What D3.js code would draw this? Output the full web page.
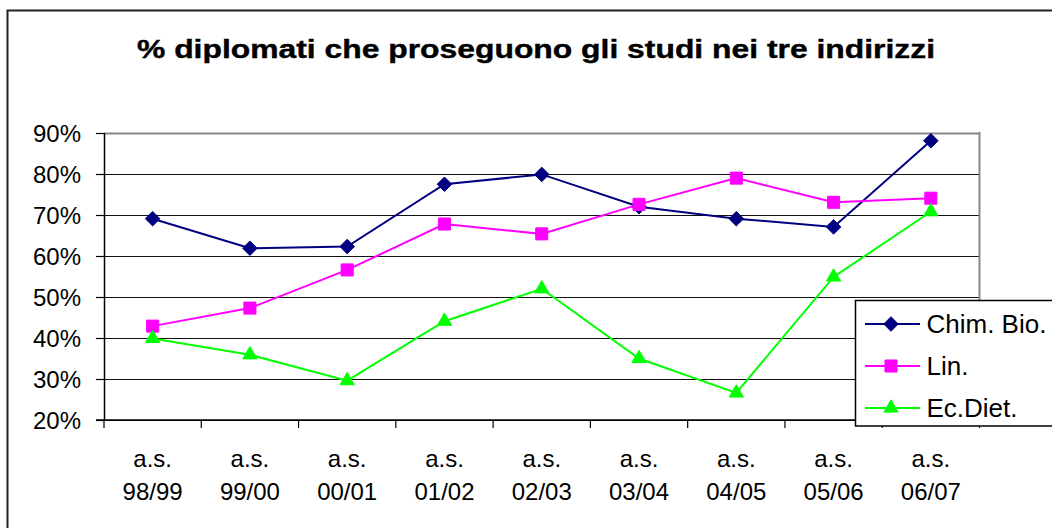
<!DOCTYPE html>
<html>
<head>
<meta charset="utf-8">
<script src="https://cdn.jsdelivr.net/npm/d3@7/dist/d3.min.js"></script>
<style>
  html, body { margin: 0; padding: 0; background: #fff; }
  svg { display: block; font-family: "Liberation Sans", Arial, sans-serif; }
</style>
</head>
<body>
<svg id="chart" width="1052" height="528"></svg>
<script>
// School years and share of graduates continuing their studies, per track (%)
const categories = ["a.s. 98/99", "a.s. 99/00", "a.s. 00/01", "a.s. 01/02", "a.s. 02/03",
                    "a.s. 03/04", "a.s. 04/05", "a.s. 05/06", "a.s. 06/07"];
const chimBio = [69.1, 61.9, 62.3, 77.5, 79.9, 72.0, 69.1, 67.1, 88.1];
const lin     = [42.9, 47.3, 56.6, 67.8, 65.4, 72.6, 79.0, 73.1, 74.1];
const ecDiet  = [39.9, 35.9, 29.6, 44.1, 52.0, 35.0, 26.6, 54.9, 70.8];
const yTicks  = [20, 30, 40, 50, 60, 70, 80, 90];
const title   = "% diplomati che proseguono gli studi nei tre indirizzi";

const seriesList = [
  { name: "Chim. Bio.", values: chimBio, color: "#000080", symbol: d3.symbolDiamond2, size: 135 },
  { name: "Lin.",       values: lin,     color: "#FF00FF", symbol: d3.symbolSquare2,  size: 185 },
  { name: "Ec.Diet.",   values: ecDiet,  color: "#00FF00", symbol: d3.symbolTriangle2, size: 145 }
];

const svg = d3.select("#chart");

// chart frame
svg.append("rect")
  .attr("x", 7.5).attr("y", 10.5).attr("width", 1200).attr("height", 700)
  .attr("fill", "#fff").attr("stroke", "#222").attr("stroke-width", 2);

// title
svg.append("text")
  .attr("x", 536).attr("y", 58)
  .attr("text-anchor", "middle")
  .attr("font-weight", "bold").attr("font-size", 25)
  .attr("stroke", "#000").attr("stroke-width", 0.4)
  .attr("textLength", 798).attr("lengthAdjust", "spacingAndGlyphs")
  .text(title);

const plotL = 104, plotR = 979.5, plotT = 133, plotB = 420;

const x = d3.scaleBand().domain(categories).range([plotL, plotR]).padding(0);
const y = d3.scaleLinear().domain([20, 90]).range([plotB, plotT]);
const cx = c => x(c) + x.bandwidth() / 2;

// horizontal gridlines
svg.append("g")
  .attr("transform", `translate(${plotL},0)`)
  .call(d3.axisLeft(y).tickValues(yTicks).tickSize(-(plotR - plotL)).tickFormat(""))
  .call(g => g.select(".domain").remove())
  .call(g => g.selectAll(".tick line")
    .attr("stroke", d => d === 90 ? "#888" : "#111")
    .attr("stroke-width", d => d === 90 ? 2 : 1.2));

// right plot border
svg.append("line")
  .attr("x1", plotR).attr("x2", plotR).attr("y1", plotT - 1).attr("y2", plotB)
  .attr("stroke", "#888").attr("stroke-width", 2);

// y axis
svg.append("g")
  .attr("transform", `translate(${plotL},0)`)
  .call(d3.axisLeft(y).tickValues(yTicks).tickSize(8).tickPadding(15).tickFormat(d => d + "%"))
  .call(g => g.select(".domain").attr("stroke", "#000").attr("stroke-width", 1.5)
    .attr("d", `M0.5,${plotT}V${plotB}`))
  .call(g => g.selectAll(".tick line").attr("stroke", "#000").attr("stroke-width", 1.2))
  .call(g => g.selectAll(".tick text")
    .attr("font-family", "'Liberation Sans', Arial, sans-serif")
    .attr("font-size", 24).attr("fill", "#000").attr("dy", "0.35em"));

// x axis line and boundary ticks
const xAxis = svg.append("g");
xAxis.append("line")
  .attr("x1", plotL - 8).attr("x2", plotR).attr("y1", plotB).attr("y2", plotB)
  .attr("stroke", "#000").attr("stroke-width", 1.5);
const boundaries = categories.map(c => x(c)).concat([plotR]);
xAxis.selectAll("line.tk").data(boundaries).join("line")
  .attr("class", "tk")
  .attr("x1", d => d).attr("x2", d => d)
  .attr("y1", plotB).attr("y2", plotB + 8)
  .attr("stroke", "#000").attr("stroke-width", 1.2);

// category labels on two lines
const lbl = xAxis.selectAll("text.cat").data(categories).join("text")
  .attr("class", "cat")
  .attr("text-anchor", "middle")
  .attr("font-size", 24).attr("fill", "#000");
lbl.each(function (c) {
  const parts = c.split(" ");
  const t = d3.select(this);
  t.append("tspan").attr("x", cx(c)).attr("y", 467).text(parts[0]);
  t.append("tspan").attr("x", cx(c)).attr("y", 500).text(parts[1]);
});

// series lines and markers
const line = d3.line().x((d, i) => cx(categories[i])).y(d => y(d));

seriesList.forEach(s => {
  const g = svg.append("g");
  g.append("path")
    .attr("d", line(s.values))
    .attr("fill", "none").attr("stroke", s.color).attr("stroke-width", 2);
  g.selectAll("path.m").data(s.values).join("path")
    .attr("class", "m")
    .attr("transform", (d, i) => `translate(${cx(categories[i])},${y(d)})`)
    .attr("d", d3.symbol().type(s.symbol).size(s.size))
    .attr("fill", s.color).attr("stroke", s.color).attr("stroke-width", 1);
});

// legend
const legend = svg.append("g");
legend.append("rect")
  .attr("x", 855.5).attr("y", 300.5).attr("width", 300).attr("height", 125.5)
  .attr("fill", "#fff").attr("stroke", "#000").attr("stroke-width", 1.5);
seriesList.forEach((s, i) => {
  const ly = 324 + i * 42;
  legend.append("line")
    .attr("x1", 865).attr("x2", 920).attr("y1", ly).attr("y2", ly)
    .attr("stroke", s.color).attr("stroke-width", 2);
  legend.append("path")
    .attr("transform", `translate(891,${ly})`)
    .attr("d", d3.symbol().type(s.symbol).size(s.size))
    .attr("fill", s.color).attr("stroke", s.color).attr("stroke-width", 1);
  legend.append("text")
    .attr("x", 926.5).attr("y", ly + 9)
    .attr("font-size", 26).attr("fill", "#000")
    .text(s.name);
});
</script>
</body>
</html>
